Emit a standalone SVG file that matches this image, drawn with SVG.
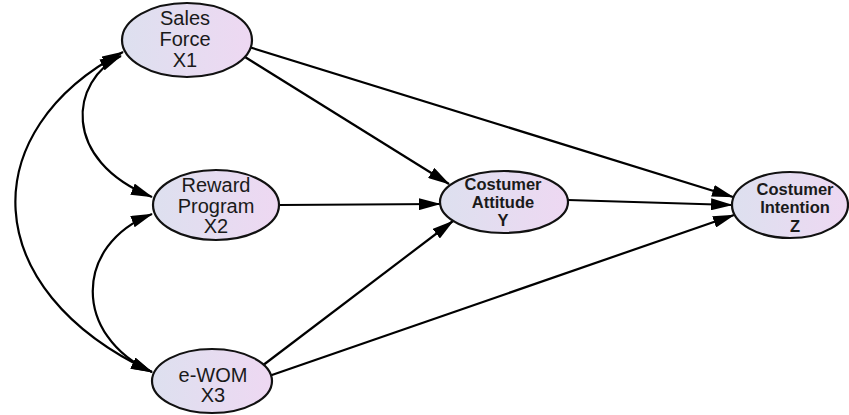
<svg xmlns="http://www.w3.org/2000/svg" width="849" height="415" viewBox="0 0 849 415">
<defs>
<linearGradient id="fillg" x1="0" y1="0" x2="1" y2="0">
<stop offset="0" stop-color="#dde0ef"/>
<stop offset="1" stop-color="#eed8f2"/>
</linearGradient>
<marker id="ah" markerWidth="22" markerHeight="12" refX="21" refY="6" orient="auto-start-reverse" markerUnits="userSpaceOnUse">
<path d="M0,0 L22,6 L0,12 z" fill="#000"/>
</marker>
<style>
.node ellipse{fill:url(#fillg);stroke:#111;stroke-width:2.2}
.n{font-family:"Liberation Sans",Arial,sans-serif;font-size:20px;fill:#1a1a1a;text-anchor:middle}
.b{font-family:"Liberation Sans",Arial,sans-serif;font-size:16.5px;font-weight:bold;fill:#1a1a1a;text-anchor:middle}
.c path,.c line{stroke:#000;stroke-width:2.2;fill:none}
.one{marker-end:url(#ah)}
.two{marker-start:url(#ah);marker-end:url(#ah)}
</style>
</defs>
<rect width="849" height="415" fill="#fff"/>
<g id="connectors" class="c">
<line class="one" x1="245" y1="57" x2="449" y2="184"/>
<line class="one" x1="249" y1="47" x2="733" y2="197"/>
<line class="one" x1="280" y1="205" x2="440" y2="204"/>
<line class="one" x1="568" y1="200" x2="732" y2="205"/>
<line class="one" x1="262" y1="366" x2="453" y2="221"/>
<line class="one" x1="269" y1="376" x2="734" y2="215"/>
<path class="two" d="M123,52 C-25,130 -25,289 152,372"/>
<path class="two" d="M121,56 C70,80 60,160 152,197"/>
<path class="two" d="M152,214 C73,245 73,336 152,372"/>
</g>
<g id="X1" class="node">
<ellipse cx="187" cy="40" rx="65" ry="37"/>
<text class="n" x="185" y="25">Sales</text>
<text class="n" x="185" y="46">Force</text>
<text class="n" x="185" y="67">X1</text>
</g>
<g id="X2" class="node">
<ellipse cx="216" cy="205" rx="63" ry="35"/>
<text class="n" x="216" y="192">Reward</text>
<text class="n" x="216" y="213">Program</text>
<text class="n" x="216" y="233">X2</text>
</g>
<g id="X3" class="node">
<ellipse cx="212" cy="381" rx="60" ry="32"/>
<text class="n" x="213" y="382">e-WOM</text>
<text class="n" x="213" y="402">X3</text>
</g>
<g id="Y" class="node">
<ellipse cx="504" cy="202" rx="64" ry="31"/>
<text class="b" x="503" y="190">Costumer</text>
<text class="b" x="503" y="208">Attitude</text>
<text class="b" x="503" y="226">Y</text>
</g>
<g id="Z" class="node">
<ellipse cx="790" cy="205" rx="58" ry="33"/>
<text class="b" x="795" y="195">Costumer</text>
<text class="b" x="795" y="213">Intention</text>
<text class="b" x="795" y="232">Z</text>
</g>
</svg>
